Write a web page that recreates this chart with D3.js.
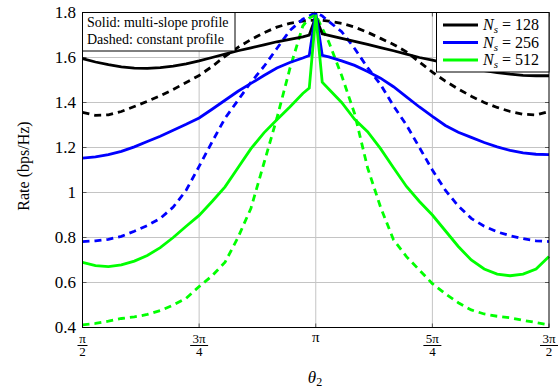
<!DOCTYPE html>
<html>
<head>
<meta charset="utf-8">
<script src="https://cdn.jsdelivr.net/npm/d3@7"></script>
<style>
  body { margin: 0; background: #fff; }
  svg { font-family: "Liberation Serif", "DejaVu Serif", serif; }
</style>
</head>
<body>
<svg id="chart" width="560" height="389"></svg>
<script>
// theta_2 in degrees (pi/2 .. 3pi/2)
const thetaDeg = [90,95,100,105,110,115,120,125,130,135,140,145,150,155,160,165,170,175,177.5,180,182.5,
                  185,190,195,200,205,210,215,220,225,230,235,240,245,250,255,260,265,270]

const ns128Solid = [1.595,1.58,1.568,1.558,1.553,1.552,1.555,1.562,1.572,1.585,1.60,1.615,1.63,1.643,1.656,1.67,1.681,1.692,1.70,1.78,1.705,
                    1.698,1.685,1.672,1.658,1.644,1.63,1.615,1.60,1.588,1.575,1.563,1.552,1.542,1.533,1.526,1.521,1.519,1.519]
const ns128Dashed = [1.356,1.343,1.345,1.36,1.382,1.405,1.43,1.458,1.489,1.52,1.56,1.605,1.645,1.68,1.71,1.735,1.752,1.762,1.765,1.766,1.765,
                     1.762,1.752,1.735,1.712,1.685,1.658,1.625,1.58,1.535,1.495,1.46,1.428,1.40,1.378,1.36,1.348,1.345,1.36]
const ns256Solid = [1.153,1.158,1.168,1.183,1.203,1.227,1.25,1.277,1.303,1.331,1.37,1.41,1.45,1.485,1.52,1.553,1.578,1.598,1.609,1.80,1.61,
                    1.603,1.585,1.565,1.538,1.508,1.47,1.425,1.38,1.338,1.298,1.268,1.245,1.222,1.203,1.187,1.176,1.17,1.168]
const ns256Dashed = [0.782,0.785,0.792,0.805,0.828,0.853,0.885,0.935,1.01,1.116,1.225,1.33,1.41,1.49,1.56,1.64,1.72,1.77,1.785,1.80,1.785,
                     1.76,1.715,1.64,1.555,1.48,1.385,1.30,1.20,1.10,1.01,0.94,0.885,0.85,0.825,0.808,0.795,0.785,0.782]
const ns512Solid = [0.689,0.675,0.671,0.678,0.695,0.72,0.755,0.8,0.85,0.898,0.96,1.025,1.11,1.195,1.265,1.323,1.38,1.44,1.464,1.79,1.49,
                    1.46,1.40,1.325,1.27,1.195,1.11,1.027,0.96,0.9,0.83,0.76,0.70,0.66,0.637,0.63,0.637,0.66,0.716]
const ns512Dashed = [0.412,0.418,0.428,0.44,0.447,0.458,0.475,0.5,0.53,0.582,0.63,0.69,0.8,0.93,1.13,1.33,1.55,1.74,1.775,1.79,1.73,
                     1.67,1.52,1.35,1.11,0.935,0.79,0.715,0.655,0.595,0.55,0.51,0.478,0.46,0.45,0.443,0.432,0.422,0.412]

const yTicks = [0.4,0.6,0.8,1,1.2,1.4,1.6,1.8]
const xTicks = [90,135,180,225,270]
const xTickNum = ['π','3π','π','5π','3π']
const xTickDen = ['2','4','','4','2']
const legendLabels = ['128','256','512']
const seriesColors = ['#000000','#0000ff','#00ff00']

const svg = d3.select('#chart')
const x = d3.scaleLinear().domain([90,270]).range([82.5,549])
const y = d3.scaleLinear().domain([0.4,1.8]).range([327.5,12.5])

// grid
svg.append('g').selectAll('line').data(yTicks.slice(1,-1)).enter().append('line')
  .attr('x1',x(90)).attr('x2',x(270))
  .attr('y1',d=>y(d)).attr('y2',d=>y(d))
  .attr('stroke','#c4c4c4').attr('stroke-width',1)
svg.append('g').selectAll('line').data(xTicks.slice(1,-1)).enter().append('line')
  .attr('y1',y(0.4)).attr('y2',y(1.8))
  .attr('x1',d=>x(d)).attr('x2',d=>x(d))
  .attr('stroke','#c4c4c4').attr('stroke-width',1)

// inner ticks
const tk = svg.append('g').attr('stroke','#555').attr('stroke-width',1)
yTicks.forEach(v=>{
  tk.append('line').attr('x1',x(90)).attr('x2',x(90)+4).attr('y1',y(v)).attr('y2',y(v))
  tk.append('line').attr('x1',x(270)-4).attr('x2',x(270)).attr('y1',y(v)).attr('y2',y(v))
})
xTicks.forEach(v=>{
  tk.append('line').attr('x1',x(v)).attr('x2',x(v)).attr('y1',y(0.4)).attr('y2',y(0.4)-4)
  tk.append('line').attr('x1',x(v)).attr('x2',x(v)).attr('y1',y(1.8)).attr('y2',y(1.8)+4)
})

// series
const line = d3.line().x(d=>x(d[0])).y(d=>y(d[1]))
const series = [
  {vals:ns128Dashed, c:0, dash:true},
  {vals:ns256Dashed, c:1, dash:true},
  {vals:ns512Dashed, c:2, dash:true},
  {vals:ns128Solid, c:0, dash:false},
  {vals:ns256Solid, c:1, dash:false},
  {vals:ns512Solid, c:2, dash:false}
]
const plot = svg.append('g')
series.forEach(s=>{
  plot.append('path')
    .datum(thetaDeg.map((t,i)=>[t,s.vals[i]]))
    .attr('d',line)
    .attr('fill','none')
    .attr('stroke',seriesColors[s.c])
    .attr('stroke-width',2.8)
    .attr('stroke-linejoin','miter')
    .attr('stroke-dasharray',s.dash?'7,5':null)
})

// frame
svg.append('rect')
  .attr('x',x(90)).attr('y',y(1.8))
  .attr('width',x(270)-x(90)).attr('height',y(0.4)-y(1.8))
  .attr('fill','none').attr('stroke','#000').attr('stroke-width',1)

// y tick labels
svg.append('g').selectAll('text').data(yTicks).enter().append('text')
  .attr('x',76).attr('y',d=>y(d)).attr('dy','0.35em')
  .attr('text-anchor','end').attr('font-size',17)
  .text(d=>d3.format('')(d))

// x tick labels (fractions of pi)
const xl = svg.append('g').attr('text-anchor','middle')
xTicks.forEach((t,i)=>{
  if(xTickDen[i]===''){
    xl.append('text').attr('x',x(t)).attr('y',342).attr('font-size',15).text(xTickNum[i])
    return
  }
  xl.append('text').attr('x',x(t)).attr('y',342.5).attr('font-size',13).text(xTickNum[i])
  const bw = xTickNum[i].length>1 ? 18 : 10
  xl.append('line').attr('x1',x(t)-bw/2).attr('x2',x(t)+bw/2)
    .attr('y1',345.5).attr('y2',345.5).attr('stroke','#000').attr('stroke-width',1)
  xl.append('text').attr('x',x(t)).attr('y',356).attr('font-size',13).text(xTickDen[i])
})

// axis labels
svg.append('text')
  .attr('transform','translate(29,166) rotate(-90)')
  .attr('text-anchor','middle').attr('font-size',16)
  .text('Rate (bps/Hz)')
const xlab = svg.append('text').attr('x',315).attr('y',383).attr('text-anchor','middle').attr('font-size',17)
xlab.append('tspan').attr('font-style','italic').text('θ')
xlab.append('tspan').attr('font-size',12).attr('dy',2.5).text('2')

// note box
svg.append('rect').attr('x',x(90)).attr('y',y(1.8)).attr('width',235-x(90)).attr('height',51-y(1.8))
  .attr('fill','#fff').attr('stroke','#000').attr('stroke-width',1)
svg.append('text').attr('x',87).attr('y',27).attr('font-size',14).text('Solid: multi-slope profile')
svg.append('text').attr('x',87).attr('y',44).attr('font-size',14).text('Dashed: constant profile')

// legend
const lg = svg.append('g')
lg.append('rect').attr('x',436.5).attr('y',y(1.8)).attr('width',x(270)-436.5).attr('height',72-y(1.8))
  .attr('fill','#fff').attr('stroke','#000').attr('stroke-width',1)
legendLabels.forEach((lab,i)=>{
  const ly = 25 + i*17.5
  lg.append('line').attr('x1',443).attr('x2',478).attr('y1',ly).attr('y2',ly)
    .attr('stroke',seriesColors[i]).attr('stroke-width',3)
  const t = lg.append('text').attr('x',483).attr('y',ly+5).attr('font-size',16)
  t.append('tspan').attr('font-style','italic').text('N')
  t.append('tspan').attr('font-style','italic').attr('font-size',11).attr('dy',3).text('s')
  t.append('tspan').attr('dy',-3).text(' = '+lab)
})
</script>
</body>
</html>
